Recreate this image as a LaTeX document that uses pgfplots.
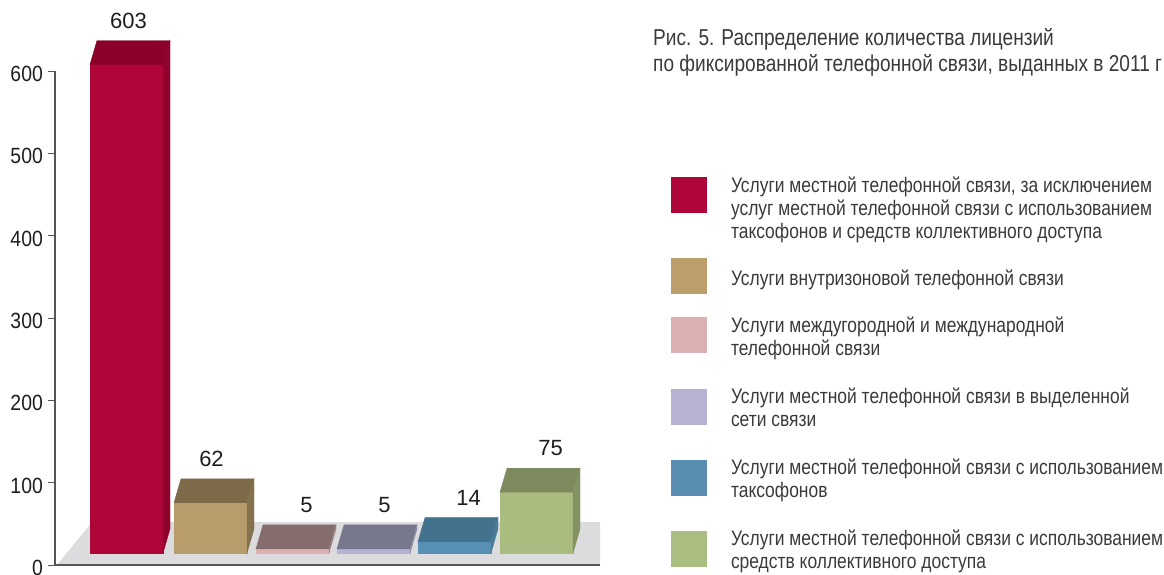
\documentclass[border=0pt]{standalone}
\usepackage{fontspec}
\setmainfont{Liberation Sans}
\newfontfamily\legfont{Liberation Sans}[FakeStretch=0.83]
\newfontfamily\tickfont{Liberation Sans}[FakeStretch=0.88]
\usepackage{pgfplots}
\usepackage{pgfplotstable}
\pgfplotsset{compat=1.18}

\definecolor{axisgrey}{HTML}{555555}
\definecolor{floorc}{HTML}{DCDCDE}
\definecolor{txt}{HTML}{3A3A3A}
\definecolor{numc}{HTML}{1E1E1E}
% front / top / side
\definecolor{bAf}{HTML}{AF0639}\definecolor{bAt}{HTML}{8A0029}\definecolor{bAs}{HTML}{8E022B}
\definecolor{bBf}{HTML}{B89C6C}\definecolor{bBt}{HTML}{7C6A48}\definecolor{bBs}{HTML}{84724D}
\definecolor{bCf}{HTML}{DDB1B1}\definecolor{bCt}{HTML}{866D6D}\definecolor{bCs}{HTML}{9A8282}
\definecolor{bDf}{HTML}{B4B2D0}\definecolor{bDt}{HTML}{77788E}\definecolor{bDs}{HTML}{8A8AA2}
\definecolor{bEf}{HTML}{5890B3}\definecolor{bEt}{HTML}{43728E}\definecolor{bEs}{HTML}{4A7B98}
\definecolor{bFf}{HTML}{AABC80}\definecolor{bFt}{HTML}{7D8A5D}\definecolor{bFs}{HTML}{849262}
% legend swatches
\definecolor{l0}{HTML}{AF0639}
\definecolor{l1}{HTML}{BC9E6C}
\definecolor{l2}{HTML}{DBB0B0}
\definecolor{l3}{HTML}{B5B3D1}
\definecolor{l4}{HTML}{5A8EB0}
\definecolor{l5}{HTML}{ABBE82}

% x = left edge of bar front (px), v = value
\pgfplotstableread{
x   v
90  603
174 62
256 5
337 5
418 14
500 75
}\bars

\pgfdeclareplotmark{emptymark}{}
\newcommand\legtext[1]{\raisebox{16pt}[0pt][0pt]{\parbox[t]{440pt}{\legfont\fontsize{21}{22.7}\selectfont\raggedright\color{txt}#1}}}
% legend swatch: #1 colour, #2 swatch top above row origin, #3 row height above origin, #4 row depth below origin
\newcommand\legimg[4]{\addlegendimage{legend image code/.code={%
  \path[draw=none,fill=none] (0pt,-#4pt) rectangle (36pt,#3pt);
  \fill[#1, draw=none] (0pt,#2pt-36pt) rectangle (36pt,#2pt);}}}

% one 3D bar: front, top and side faces, drawn at its data point; #4 = label x offset
\pgfplotsset{bar3d/.style n args={4}{
  forget plot, scatter, only marks, mark=emptymark,
  point meta=explicit,
  scatter/@pre marker code/.code={%
    \begin{scope}
    \pgfkeys{/pgf/fpu=true,/pgf/fpu/output format=fixed}%
    \pgfmathparse{0.81*\pgfplotspointmeta}\let\hh\pgfmathresult
    \pgfmathparse{0.81*\pgfplotspointmeta+24}\let\hb\pgfmathresult
    \pgfmathparse{0.81*\pgfplotspointmeta+44}\let\hl\pgfmathresult
    \pgfmathparse{\pgfplotspointmeta}\let\lv\pgfmathresult
    \pgfkeys{/pgf/fpu=false}%
    \fill[#1] (0pt,0pt) rectangle (73pt,\hh pt);
    \fill[#2] (0pt,\hh pt) -- (73pt,\hh pt) -- (80pt,\hb pt) -- (7pt,\hb pt) -- cycle;
    \fill[#3] (73pt,0pt) -- (73pt,\hh pt) -- (80pt,\hb pt) -- (80pt,24pt) -- cycle;
    \node[inner sep=0pt, text=numc, font=\fontsize{22}{24}\selectfont] at (36.5pt+#4pt,\hl pt) {\pgfmathprintnumber[fixed,precision=0]{\lv}};
    \end{scope}
  },
  scatter/@post marker code/.code={},
}}

\begin{document}
\begin{tikzpicture}
\path[use as bounding box] (-55pt,-9pt) rectangle (1109pt,565pt);
\begin{axis}[
  at={(0pt,0pt)}, anchor=south west,
  scale only axis, width=545pt, height=494pt,
  xmin=55, xmax=600, ymin=0, ymax=600,
  clip=false, axis on top,
  axis x line=bottom, axis y line=left,
  axis line style={-, draw=axisgrey, line width=1.2pt},
  xtick=\empty,
  ytick={0,100,...,600},
  tick align=outside, major tick length=7pt,
  tick style={draw=axisgrey, line width=1pt},
  /pgf/number format/assume math mode=true,
  yticklabel style={font=\tickfont\fontsize{22}{24}\selectfont, text=numc, anchor=east, inner sep=0pt, xshift=-5pt, yshift=-3pt},
  title={\parbox[t]{540pt}{\legfont\fontsize{23}{26}\selectfont Рис. 5. Распределение количества лицензий\newline по фиксированной телефонной связи, выданных в 2011 г}},
  title style={at={(axis description cs:1.0972,1.0385)}, anchor=base west, inner sep=0pt, yshift=0pt, text=txt},
  legend style={at={(axis description cs:1.1303,0.8097)}, anchor=north west, draw=none, fill=none,
    inner sep=0pt, outer sep=0pt, row sep=0pt, cells={anchor=base west},
    nodes={inner sep=0pt},
    /tikz/every odd column/.append style={column sep=24pt}},
]
% floor
\addplot[fill=floorc, draw=none, forget plot] coordinates {(57,0) (92,52.2) (600,52.2) (600,0)} --cycle;
% 3D bars (base of the front faces at 14.6)
\addplot[bar3d={bAf}{bAt}{bAs}{2}] table[x=x, y expr=14.6, meta=v, skip coords between index={1}{6}] {\bars};
\addplot[bar3d={bBf}{bBt}{bBs}{1}] table[x=x, y expr=14.6, meta=v, skip coords between index={0}{1}, skip coords between index={2}{6}] {\bars};
\addplot[bar3d={bCf}{bCt}{bCs}{14}] table[x=x, y expr=14.6, meta=v, skip coords between index={0}{2}, skip coords between index={3}{6}] {\bars};
\addplot[bar3d={bDf}{bDt}{bDs}{11}] table[x=x, y expr=14.6, meta=v, skip coords between index={0}{3}, skip coords between index={4}{6}] {\bars};
\addplot[bar3d={bEf}{bEt}{bEs}{14}] table[x=x, y expr=14.6, meta=v, skip coords between index={0}{4}, skip coords between index={5}{6}] {\bars};
\addplot[bar3d={bFf}{bFt}{bFs}{14}] table[x=x, y expr=14.6, meta=v, skip coords between index={0}{5}] {\bars};

\legimg{l0}{16}{28}{65}
\addlegendentry{\legtext{Услуги местной телефонной связи, за исключением\newline услуг местной телефонной связи с использованием\newline таксофонов и средств коллективного доступа}}
\legimg{l1}{28}{28}{19}
\addlegendentry{\legtext{Услуги внутризоновой телефонной связи}}
\legimg{l2}{16}{28}{43}
\addlegendentry{\legtext{Услуги междугородной и международной\newline телефонной связи}}
\legimg{l3}{15}{28}{43}
\addlegendentry{\legtext{Услуги местной телефонной связи в выделенной\newline сети связи}}
\legimg{l4}{15}{28}{43}
\addlegendentry{\legtext{Услуги местной телефонной связи с использованием\newline таксофонов}}
\legimg{l5}{15}{28}{30}
\addlegendentry{\legtext{Услуги местной телефонной связи с использованием\newline средств коллективного доступа}}
\end{axis}
\end{tikzpicture}
\end{document}
